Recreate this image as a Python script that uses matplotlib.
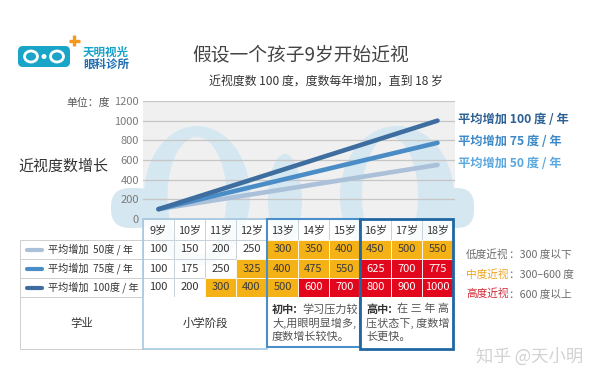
import numpy as np
import matplotlib
matplotlib.use('Agg')
import matplotlib.pyplot as plt
from matplotlib.patches import Rectangle, FancyBboxPatch, PathPatch, Ellipse
from matplotlib.path import Path

plt.rcParams['font.family'] = ['Noto Sans CJK SC', 'DejaVu Sans']

# ---------------- data ----------------
ages = ['9岁', '10岁', '11岁', '12岁', '13岁', '14岁', '15岁', '16岁', '17岁', '18岁']
rate50 = [100, 150, 200, 250, 300, 350, 400, 450, 500, 550]
rate75 = [100, 175, 250, 325, 400, 475, 550, 625, 700, 775]
rate100 = [100, 200, 300, 400, 500, 600, 700, 800, 900, 1000]
row_labels = ['平均增加  50度 / 年', '平均增加  75度 / 年', '平均增加  100度 / 年']
end_labels = ['平均增加 50 度 / 年', '平均增加 75 度 / 年', '平均增加 100 度 / 年']
yticks = [0, 200, 400, 600, 800, 1000, 1200]
severity_names = ['低度近视', '中度近视', '高度近视']
severity_ranges = ['：300 度以下', '：300–600 度', '：600 度以上']
title = '假设一个孩子9岁开始近视'
subtitle = '近视度数 100 度，度数每年增加，直到 18 岁'

series = [rate50, rate75, rate100]
line_colors = ['#abc0d9', '#4a8dc6', '#3e6e9f']
label_colors = ['#5aa8df', '#3d89c7', '#2d6194']
sev_colors = ['#6b6b6b', '#f0a21c', '#d42a36']
ORANGE = '#f5b216'
RED = '#e2071c'

W, H = 600, 383
fig = plt.figure(figsize=(6.0, 3.83), dpi=100)
fig.patch.set_facecolor('white')

# layout (pixels)
X0, CW = 143, 31
NC = len(ages)
X1 = X0 + NC * CW
YTOP, YBOT = 101, 219
HDR = (219, 240)
ROWS = [(240, 259), (259, 278), (278, 297)]
BOTTOM = (297, 349)
LX0 = 20

bg = fig.add_axes([0, 0, 1, 1], zorder=0)
bg.set_xlim(0, W); bg.set_ylim(H, 0); bg.axis('off')
ax = fig.add_axes([X0 / W, 1 - YBOT / H, (X1 - X0 + 2) / W, (YBOT - YTOP) / H], zorder=1)
ax.patch.set_alpha(0)
top = fig.add_axes([0, 0, 1, 1], zorder=2)
top.set_xlim(0, W); top.set_ylim(H, 0); top.axis('off'); top.patch.set_alpha(0)

# plot background
bg.add_patch(Rectangle((0, 0), 1, 1, transform=ax.transAxes, fc='#f0f0f0', ec='none', zorder=1))

# watermark (pale logo)
WM = '#d5e7f0'
def ring(cx, cy, ow, oh, icx, icy, iw, ih):
    t = np.linspace(0, 2 * np.pi, 160)
    outer = np.c_[cx + ow / 2 * np.cos(t), cy + oh / 2 * np.sin(t)]
    inner = np.c_[icx + iw / 2 * np.cos(t[::-1]), icy + ih / 2 * np.sin(t[::-1])]
    verts = np.r_[outer, inner]
    codes = [Path.MOVETO] + [Path.LINETO] * (len(t) - 1) + [Path.MOVETO] + [Path.LINETO] * (len(t) - 1)
    return PathPatch(Path(verts, codes), fc=WM, ec='none', zorder=2)

bg.add_patch(ring(197, 196, 106, 140, 197, 196, 59, 118))
bg.add_patch(ring(397, 196, 114, 140, 390, 196, 56, 118))
bg.add_patch(Ellipse((285, 200), 34, 92, fc=WM, ec='none', zorder=2))
bg.add_patch(FancyBboxPatch((111, 188), 45, 40, boxstyle='round,pad=0,rounding_size=19',
                            fc=WM, ec='none', zorder=2))
bg.add_patch(FancyBboxPatch((440, 188), 34, 40, boxstyle='round,pad=0,rounding_size=17',
                            fc=WM, ec='none', zorder=2))

# ---------------- chart ----------------
x = np.arange(NC)
ax.set_xlim(-0.5, NC - 0.5 + 2 / CW)
ax.set_ylim(0, 1200)
ax.set_yticks(yticks)
ax.set_yticklabels([str(v) for v in yticks], fontsize=8, color='#7a7a7a')
ax.set_xticks([])
ax.tick_params(axis='y', length=0, pad=3)
ax.grid(axis='y', color='#c6c6c6', lw=0.9)
ax.set_axisbelow(True)
for s in ax.spines.values():
    s.set_visible(False)

for i, (vals, c) in enumerate(zip(series, line_colors)):
    ax.plot(x, vals, color=c, lw=3.3, solid_capstyle='round', zorder=3 + i)
    ax.annotate(end_labels[i], (x[-1], vals[-1]), xytext=(15, 1), textcoords='offset points',
                ha='left', va='center', fontsize=8.8, color=label_colors[i],
                fontweight='bold', annotation_clip=False)

# ---------------- titles / logo ----------------
top.text(301, 55, title, ha='center', va='center', fontsize=13.5, color='#444444')
top.text(326, 82, subtitle, ha='center', va='center', fontsize=8.6, color='#333333')
top.text(110, 103, '单位：度', ha='right', va='center', fontsize=7.8, color='#555555')
top.text(18, 167, '近视度数增长', ha='left', va='center', fontsize=10.8, color='#333333')

top.add_patch(FancyBboxPatch((18, 46), 52, 21, boxstyle='round,pad=0,rounding_size=5',
                             fc='#1aa4c8', ec='none'))
for cx in (31, 57):
    top.add_patch(Ellipse((cx, 56.5), 13, 11, fc='none', ec='white', lw=2.0))
top.add_patch(Ellipse((44, 56.5), 5, 5, fc='white', ec='none'))
top.plot([74, 74], [35, 46], color='#f39a1e', lw=2.4, solid_capstyle='butt')
top.plot([68.5, 79.5], [40.5, 40.5], color='#f39a1e', lw=2.4, solid_capstyle='butt')
top.text(83, 52, '天明视光', ha='left', va='center', fontsize=8.3, fontweight='bold', color='#17a3c9')
top.text(83, 64, '眼科诊所', ha='left', va='center', fontsize=8.3, fontweight='bold', color='#1f6db0')

# ---------------- table ----------------
GRID = '#c9d2da'
def cell_color(v):
    if v >= 600:
        return RED
    if v >= 300:
        return ORANGE
    return None

# header
for j, a in enumerate(ages):
    cx0 = X0 + j * CW
    top.add_patch(Rectangle((cx0, HDR[0]), CW, HDR[1] - HDR[0], fc='white', alpha=0.85,
                            ec='none'))
    top.add_patch(Rectangle((cx0, HDR[0]), CW, HDR[1] - HDR[0], fc='none', ec=GRID, lw=0.7))
    top.text(cx0 + CW / 2, (HDR[0] + HDR[1]) / 2 + 1, a, ha='center', va='center',
             fontsize=7.8, color='#333333')

# rows
for r, vals in enumerate(series):
    y0, y1 = ROWS[r]
    # left label cell
    top.add_patch(Rectangle((LX0, y0), X0 - LX0, y1 - y0, fc='white', ec='#cfcfcf', lw=0.7))
    top.plot([27, 42], [(y0 + y1) / 2] * 2, color=line_colors[r], lw=3, solid_capstyle='round')
    top.text(48, (y0 + y1) / 2, row_labels[r], ha='left', va='center', fontsize=7.3,
             color='#333333')
    for j, v in enumerate(vals):
        cx0 = X0 + j * CW
        c = cell_color(v)
        if c is None:
            top.add_patch(Rectangle((cx0, y0), CW, y1 - y0, fc='white', alpha=0.85, ec='none'))
            top.add_patch(Rectangle((cx0, y0), CW, y1 - y0, fc='none', ec=GRID, lw=0.7))
            tc = '#333333'
        else:
            top.add_patch(Rectangle((cx0, y0), CW, y1 - y0, fc=c, ec='white', lw=0.6))
            tc = 'white' if c == RED else '#3a3a3a'
        top.text(cx0 + CW / 2, (y0 + y1) / 2, str(v), ha='center', va='center',
                 fontsize=8, color=tc)

# bottom section
top.add_patch(Rectangle((LX0, BOTTOM[0]), X0 - LX0, BOTTOM[1] - BOTTOM[0], fc='white',
                        ec='#cfcfcf', lw=0.7))
top.add_patch(Rectangle((X0, BOTTOM[0]), 4 * CW, BOTTOM[1] - BOTTOM[0], fc='white', ec='none'))
top.add_patch(Rectangle((X0 + 4 * CW, BOTTOM[0]), 6 * CW, BOTTOM[1] - BOTTOM[0], fc='white',
                        ec='none'))
ym = (BOTTOM[0] + BOTTOM[1]) / 2
top.text((LX0 + X0) / 2, ym, '学业', ha='center', va='center', fontsize=8.2, color='#333333')
top.text(X0 + 2 * CW, ym, '小学阶段', ha='center', va='center', fontsize=8.2, color='#333333')

FS = 8.0
def para(x0, head, lines):
    ys = [309, 323, 337]
    top.text(x0, ys[0], head, ha='left', va='center', fontsize=FS, fontweight='bold', color='#333333')
    top.annotate(lines[0], (x0, ys[0]), xytext=(2.75 * FS, 0), textcoords='offset points',
                 ha='left', va='center', fontsize=FS, color='#555555')
    for yy, ln in zip(ys[1:], lines[1:]):
        top.text(x0, yy, ln, ha='left', va='center', fontsize=FS, color='#555555')

para(X0 + 4 * CW + 5, '初中:', ['学习压力较', '大,用眼明显增多,', '度数增长较快。'])
para(X0 + 7 * CW + 6, '高中:', ['在 三 年 高', '压状态下, 度数增', '长更快。'])

# stage boxes
top.add_patch(Rectangle((X0, 219), 4 * CW, BOTTOM[1] - 219, fc='none', ec='#a6c8e2', lw=1.2))
top.add_patch(Rectangle((X0 + 4 * CW, 219), 3 * CW, BOTTOM[1] - 2 - 219, fc='none',
                        ec='#4a8fc8', lw=1.5))
top.add_patch(Rectangle((X0 + 7 * CW, 219), 3 * CW, BOTTOM[1] - 219, fc='none',
                        ec='#1f67a3', lw=2.0))

# severity legend
SFS = 7.7
for k, (nm, rg) in enumerate(zip(severity_names, severity_ranges)):
    yy = 255 + k * 19.5
    top.text(466, yy, nm, ha='left', va='center', fontsize=SFS, color=sev_colors[k])
    top.annotate(rg, (466, yy), xytext=(4 * SFS, 0), textcoords='offset points',
                 ha='left', va='center', fontsize=SFS, color='#6b6b6b')

top.text(530, 357, '知乎 @天小明', ha='center', va='center', fontsize=12.5, color='#d2d2d2')

fig.savefig('out.png', dpi=100, facecolor='white')
